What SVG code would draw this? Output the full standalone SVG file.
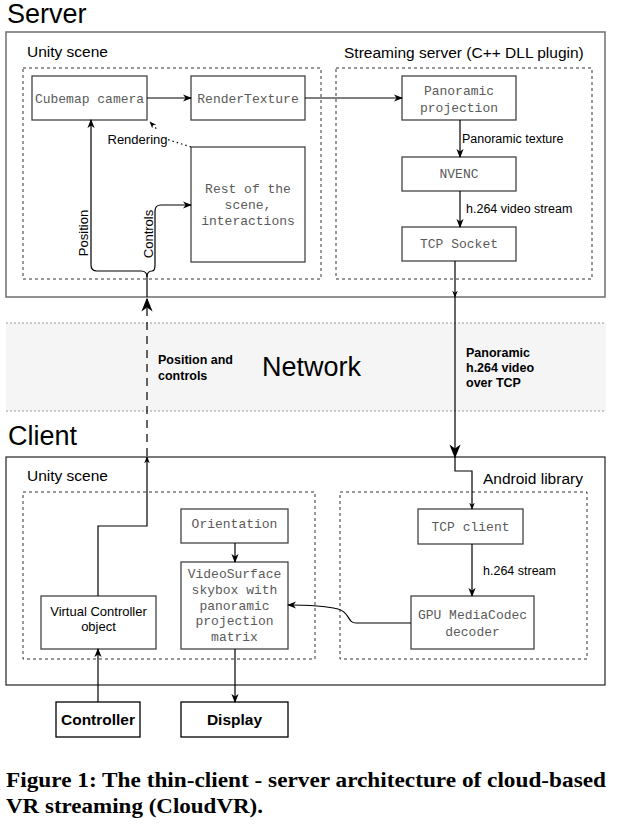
<svg xmlns="http://www.w3.org/2000/svg" width="623" height="832" viewBox="0 0 623 832">
<style>
.sans{font-family:"Liberation Sans",Arial,sans-serif;fill:#000}
.mono{font-family:"Liberation Mono","Courier New",monospace;font-size:13px;fill:#5a5a5a;text-anchor:middle}
.title{font-size:27px}
.grp{font-size:15.5px}
.lbl{font-size:12.5px}
.net{font-size:12.5px;font-weight:bold}
.node{fill:#fff;stroke:#444;stroke-width:1.3}
.dash{fill:none;stroke:#333;stroke-width:1;stroke-dasharray:3,3}
.conn{fill:none;stroke:#000;stroke-width:1.2}
.cap{font-family:"Liberation Serif","Times New Roman",serif;font-weight:bold;font-size:20px;fill:#000}
</style>
<defs>
<marker id="arr" viewBox="0 0 10 8" refX="9" refY="4" markerWidth="9" markerHeight="8" orient="auto" markerUnits="userSpaceOnUse"><path d="M0,0 L10,4 L0,8 L3,4 Z" fill="#000"/></marker>
<marker id="arrS" viewBox="0 0 10 8" refX="9" refY="4" markerWidth="7" markerHeight="7" orient="auto" markerUnits="userSpaceOnUse"><path d="M0,0 L10,4 L0,8 L3,4 Z" fill="#000"/></marker>
<marker id="arrL" viewBox="0 0 10 8" refX="9" refY="4" markerWidth="14" markerHeight="12" orient="auto" markerUnits="userSpaceOnUse"><path d="M0,0 L10,4 L0,8 L3,4 Z" fill="#000"/></marker>
</defs>
<rect width="623" height="832" fill="#fff"/>

<g id="network-band">
<rect x="6" y="323" width="600" height="88" fill="#f5f5f5"/>
<line x1="6" y1="323" x2="606" y2="323" stroke="#999" stroke-width="1.2" stroke-dasharray="2,2"/>
<line x1="6" y1="411" x2="606" y2="411" stroke="#999" stroke-width="1.2" stroke-dasharray="2,2"/>
<text class="sans" x="262" y="376" font-size="27">Network</text>
</g>

<g id="server">
<text class="sans title" x="7" y="23">Server</text>
<rect x="6" y="32" width="599" height="265" fill="none" stroke="#777" stroke-width="1.6"/>
</g>
<g id="server-unity">
<rect class="dash" x="23" y="68" width="298" height="211"/>
<text class="sans grp" x="27" y="57">Unity scene</text>
</g>
<g id="streaming-server">
<rect class="dash" x="336" y="68" width="256" height="211"/>
<text class="sans grp" x="344" y="58">Streaming server (C++ DLL plugin)</text>
</g>

<g id="cubemap-camera"><rect class="node" x="32" y="76" width="115" height="44"/><text class="mono" x="89.5" y="102.5">Cubemap camera</text></g>
<g id="render-texture"><rect class="node" x="191" y="76" width="114" height="44"/><text class="mono" x="248" y="102.5">RenderTexture</text></g>
<g id="panoramic-projection"><rect class="node" x="402" y="76" width="114" height="44"/><text class="mono" x="459" y="94.5">Panoramic</text><text class="mono" x="459" y="111.5">projection</text></g>
<g id="nvenc"><rect class="node" x="402" y="157" width="114" height="34"/><text class="mono" x="459" y="178">NVENC</text></g>
<g id="tcp-socket"><rect class="node" x="402" y="227" width="114" height="34"/><text class="mono" x="459" y="248">TCP Socket</text></g>
<g id="rest-of-scene"><rect class="node" x="191" y="147" width="114" height="115"/><text class="mono" x="248" y="192.5">Rest of the</text><text class="mono" x="248" y="209">scene,</text><text class="mono" x="248" y="225">interactions</text></g>

<g id="client">
<text class="sans title" x="8" y="445">Client</text>
<rect x="6" y="457" width="599" height="228" fill="none" stroke="#222" stroke-width="1.2"/>
</g>
<g id="client-unity">
<rect class="dash" x="23" y="492" width="292" height="167"/>
<text class="sans grp" x="27" y="481">Unity scene</text>
</g>
<g id="android-library">
<rect class="dash" x="340" y="492" width="247" height="167"/>
<text class="sans grp" x="483" y="484">Android library</text>
</g>

<g id="orientation"><rect class="node" x="181" y="509" width="107" height="34"/><text class="mono" x="234.5" y="527.5">Orientation</text></g>
<g id="video-surface"><rect class="node" x="181" y="562" width="107" height="87"/>
<text class="mono" x="234.5" y="577.5">VideoSurface</text><text class="mono" x="234.5" y="593.5">skybox with</text><text class="mono" x="234.5" y="609.5">panoramic</text><text class="mono" x="234.5" y="625">projection</text><text class="mono" x="234.5" y="640.5">matrix</text></g>
<g id="virtual-controller"><rect class="node" x="41" y="596" width="115" height="53"/><text class="sans" font-size="13" text-anchor="middle" x="98.5" y="615.5">Virtual Controller</text><text class="sans" font-size="13" text-anchor="middle" x="98.5" y="630.5">object</text></g>
<g id="tcp-client"><rect class="node" x="418" y="509" width="105" height="35"/><text class="mono" x="470.5" y="530.5">TCP client</text></g>
<g id="decoder"><rect class="node" x="411" y="596" width="123" height="53"/><text class="mono" x="472.5" y="618.5">GPU MediaCodec</text><text class="mono" x="472.5" y="635.5">decoder</text></g>
<g id="controller"><rect x="56" y="702" width="84" height="35" fill="#fff" stroke="#000" stroke-width="1.3"/><text class="sans" font-size="15.5" font-weight="bold" text-anchor="middle" x="98" y="724.5">Controller</text></g>
<g id="display"><rect x="181" y="702" width="107" height="35" fill="#fff" stroke="#000" stroke-width="1.3"/><text class="sans" font-size="15.5" font-weight="bold" text-anchor="middle" x="234.5" y="724.5">Display</text></g>

<g id="connectors">
<path class="conn" d="M147,98 L191,98" marker-end="url(#arr)"/>
<path class="conn" d="M305,98 L402,98" marker-end="url(#arr)"/>
<path class="conn" d="M460,120 L460,157" marker-end="url(#arr)"/>
<path class="conn" d="M460,191 L460,227" marker-end="url(#arr)"/>
<path class="conn" d="M455,261 L455,297" stroke="#555" marker-end="url(#arrS)"/>
<path class="conn" d="M455,297 L455,457" stroke-width="2.8" marker-end="url(#arrL)"/>
<path class="conn" d="M455,457 L455,471 L472,471 L472,509" marker-end="url(#arrS)"/>
<path class="conn" d="M472,544 L472,596" marker-end="url(#arr)"/>
<path class="conn" d="M411,623 L356,623 C347,623 350,612 338,609 C325,606 305,605 288,605" marker-end="url(#arr)"/>
<path class="conn" d="M235,543 L235,562" marker-end="url(#arr)"/>
<path class="conn" d="M235,649 L235,702" marker-end="url(#arr)"/>
<path class="conn" d="M98,702 L98,649" marker-end="url(#arr)"/>
<path class="conn" d="M98,596 L98,526 L147,526 L147,457" marker-end="url(#arrS)"/>
<path class="conn" d="M147,456 L147,299" stroke-width="3" stroke-dasharray="8,6" marker-end="url(#arrL)"/>
<path class="conn" d="M147,297 L147,277 Q147,271 141,271 L97,271 Q91,271 91,265 L91,120" marker-end="url(#arr)"/>
<path class="conn" d="M147,277 Q147,271 152,271 Q155,271 155,265 L155,211 Q155,205 161,205 L191,205" marker-end="url(#arr)"/>
<path class="conn" d="M191,147 L166,139 L150,122" stroke-dasharray="1.5,3" marker-end="url(#arrS)"/>
<rect x="106" y="130" width="62" height="16" fill="#fff"/>
<text class="sans" font-size="13" text-anchor="middle" x="137.5" y="143.5">Rendering</text>
<text class="sans" font-size="13" text-anchor="middle" x="83" y="237.5" transform="rotate(-90 83 233)">Position</text>
<text class="sans" font-size="13" text-anchor="middle" x="148.5" y="238.5" transform="rotate(-90 148.5 234)">Controls</text>
<text class="sans lbl" x="462" y="142.5">Panoramic texture</text>
<text class="sans lbl" x="466" y="212.5">h.264 video stream</text>
<text class="sans lbl" x="483" y="574.5">h.264 stream</text>
<text class="sans net" x="158" y="363.5">Position and</text>
<text class="sans net" x="158" y="379.5">controls</text>
<text class="sans net" x="466" y="356.5">Panoramic</text>
<text class="sans net" x="466" y="371.5">h.264 video</text>
<text class="sans net" x="466" y="386.5">over TCP</text>
</g>

<g id="caption">
<text class="cap" x="6" y="787" textLength="600" lengthAdjust="spacingAndGlyphs">Figure 1: The thin-client - server architecture of cloud-based</text>
<text class="cap" x="6" y="813" textLength="257" lengthAdjust="spacingAndGlyphs">VR streaming (CloudVR).</text>
</g>
</svg>
